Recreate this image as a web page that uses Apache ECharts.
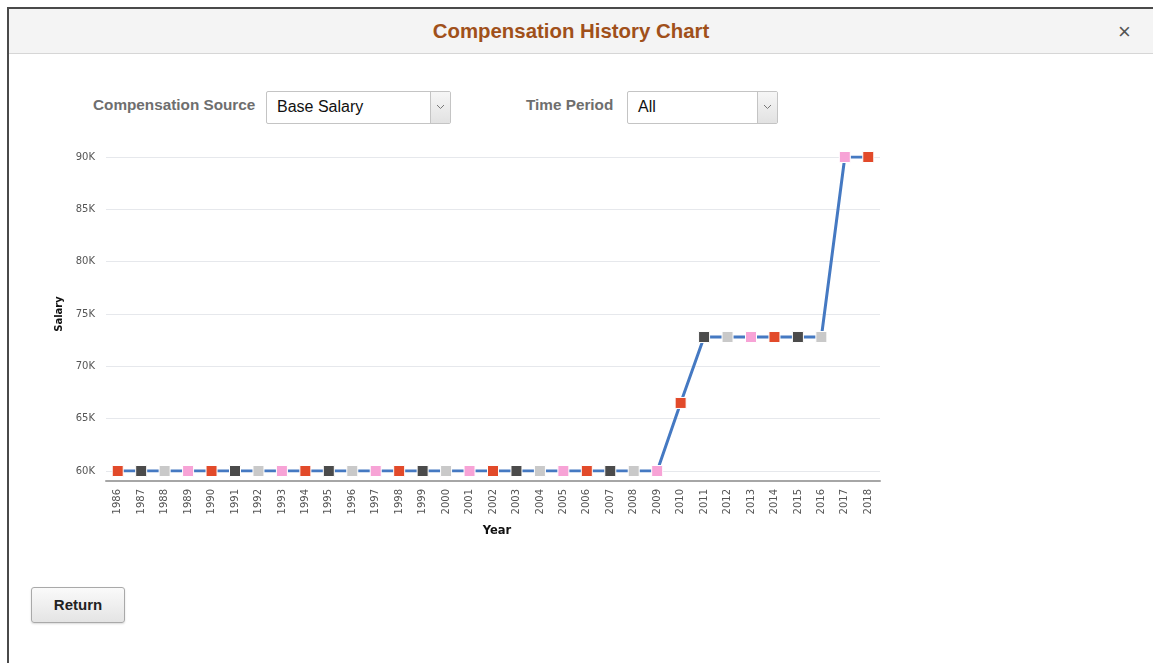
<!DOCTYPE html>
<html>
<head>
<meta charset="utf-8">
<script src="https://cdn.jsdelivr.net/npm/echarts@6/dist/echarts.min.js"></script>
<style>
  html, body { margin: 0; padding: 0; width: 1153px; height: 663px; background: #fff; overflow: hidden; font-family: "Liberation Sans", Arial, sans-serif; }
  #frame { position: absolute; left: 7px; top: 7px; width: 1146px; height: 656px; border-left: 2px solid #4a4a4a; border-top: 2px solid #4a4a4a; background: #fff; }
  #header { position: absolute; left: 0; top: 0; width: 100%; height: 44px; background: #f4f4f4; border-bottom: 1px solid #d6d6d6; }
  #title { position: absolute; left: 0; width: 1124px; top: 11px; text-align: center; font-weight: bold; font-size: 20.4px; color: #a0501a; }
  #close { position: absolute; left: 1109px; top: 10px; font-size: 22px; color: #555; }
  .lbl { position: absolute; top: 87px; font-size: 15.3px; font-weight: bold; color: #6e6e6e; }
  .sel { position: absolute; top: 82px; height: 31px; border: 1px solid #c4c4c4; background: #fff; border-radius: 2px; }
  .sel .txt { position: absolute; left: 10px; top: 6px; font-size: 16px; color: #111; }
  .sel .btn { position: absolute; right: 0; top: 0; width: 19px; height: 31px; border-left: 1px solid #c4c4c4; background: linear-gradient(#f6f6f6, #e2e2e2); }
  .sel .btn svg { position: absolute; left: 5px; top: 12px; }
  #chart { position: absolute; left: 0; top: 130px; width: 900px; height: 420px; }
  #ret { position: absolute; left: 22px; top: 578px; width: 92px; height: 34px; border: 1px solid #a9a9a9; border-radius: 3px; background: linear-gradient(#fafafa, #e4e4e4); box-shadow: 0 1px 2px rgba(0,0,0,0.15); text-align: center; line-height: 34px; font-weight: bold; font-size: 15px; color: #222; }
</style>
</head>
<body>
<div id="frame">
  <div id="header"><div id="title">Compensation History Chart</div><div id="close">×</div></div>
  <div class="lbl" style="left:84px;">Compensation Source</div>
  <div class="sel" style="left:257px; width:183px;"><div class="txt">Base Salary</div><div class="btn"><svg width="9" height="6"><polyline points="1,1 4.5,4.5 8,1" fill="none" stroke="#777" stroke-width="1"/></svg></div></div>
  <div class="lbl" style="left:517px;">Time Period</div>
  <div class="sel" style="left:618px; width:149px;"><div class="txt">All</div><div class="btn"><svg width="9" height="6"><polyline points="1,1 4.5,4.5 8,1" fill="none" stroke="#777" stroke-width="1"/></svg></div></div>
  <div id="ret">Return</div>
</div>
<div id="chart"></div>
<script>
const years = ['1986','1987','1988','1989','1990','1991','1992','1993','1994','1995','1996','1997','1998','1999','2000','2001','2002','2003','2004','2005','2006','2007','2008','2009','2010','2011','2012','2013','2014','2015','2016','2017','2018'];
const salary = [60000,60000,60000,60000,60000,60000,60000,60000,60000,60000,60000,60000,60000,60000,60000,60000,60000,60000,60000,60000,60000,60000,60000,60000,66500,72800,72800,72800,72800,72800,72800,90000,90000];
const yTicks = [60000,65000,70000,75000,80000,85000,90000];
const markerColors = ['#e24a2a','#4b4b4b','#c9c9c9','#f7a3d6'];

const chart = echarts.init(document.getElementById('chart'), null, { renderer: 'canvas' });
chart.setOption({
  animation: false,
  grid: { left: 106, width: 774, top: 27, bottom: 79 },
  xAxis: {
    type: 'category',
    data: years,
    boundaryGap: true,
    offset: 10,
    name: 'Year',
    nameLocation: 'middle',
    nameGap: 44,
    nameTextStyle: { fontFamily: 'DejaVu Sans', fontWeight: 'bold', fontSize: 11.5, color: '#111', padding: [0, 0, 0, 8] },
    axisLine: { show: true, lineStyle: { color: '#a6a6a6', width: 2 } },
    axisTick: { show: false },
    axisLabel: { rotate: 90, interval: 0, fontFamily: 'DejaVu Sans', fontSize: 10, color: '#555', margin: 8 },
    splitLine: { show: false }
  },
  yAxis: {
    type: 'value',
    min: yTicks[0],
    max: yTicks[yTicks.length - 1],
    interval: 5000,
    name: 'Salary',
    nameLocation: 'middle',
    nameRotate: 90,
    nameGap: 40,
    nameTextStyle: { fontFamily: 'DejaVu Sans', fontWeight: 'bold', fontSize: 10, color: '#111' },
    axisLine: { show: false },
    axisTick: { show: false },
    axisLabel: { fontFamily: 'DejaVu Sans', fontSize: 10, color: '#555', margin: 11, formatter: v => (v / 1000) + 'K' },
    splitLine: { lineStyle: { color: '#e6e8ec', width: 1 } }
  },
  series: [{
    type: 'line',
    data: salary,
    symbol: 'rect',
    symbolSize: 11,
    lineStyle: { color: '#4579c2', width: 3 },
    itemStyle: { color: p => markerColors[p.dataIndex % markerColors.length], borderColor: '#fff', borderWidth: 1 },
    emphasis: { disabled: true },
    z: 3
  }]
});
</script>
</body>
</html>
